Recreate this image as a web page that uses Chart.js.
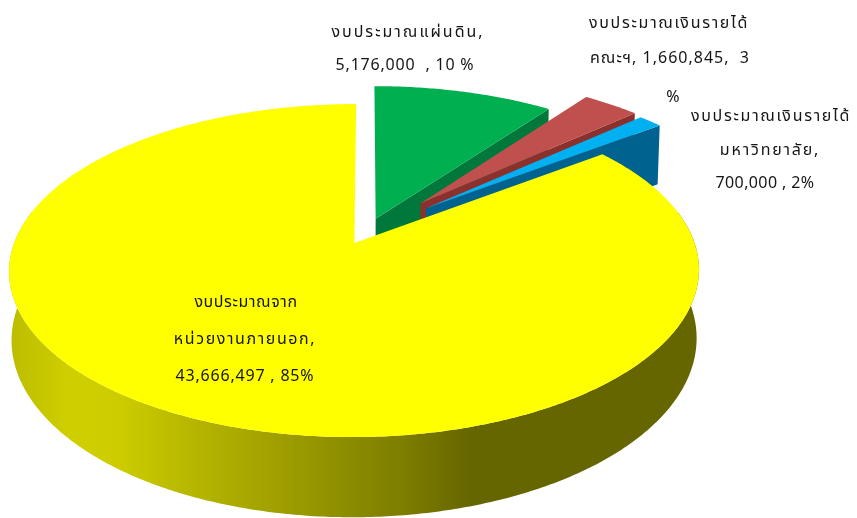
<!DOCTYPE html>
<html>
<head>
<meta charset="utf-8">
<script src="https://cdn.jsdelivr.net/npm/chart.js@4"></script>
<style>
html, body { margin: 0; padding: 0; background: #fff; }
canvas { display: block; filter: blur(0.5px); }
</style>
</head>
<body>
<canvas id="budgetChart" width="857" height="518"></canvas>
<script>
const categories = ['งบประมาณแผ่นดิน', 'งบประมาณเงินรายได้คณะฯ', 'งบประมาณเงินรายได้มหาวิทยาลัย', 'งบประมาณจากหน่วยงานภายนอก'];
const budgetValues = [5176000, 1660845, 700000, 43666497];
const sliceColors = ['#00b050', '#c0504d', '#00b0f0', '#ffff00'];
const wallColors = ['#00783c', '#8c302d', '#00628f', null];
const labelLines = [
    ['งบประมาณแผ่นดิน,', '5,176,000  , 10 %'],
    ['งบประมาณเงินรายได้', 'คณะฯ, 1,660,845,  3'],
    ['งบประมาณเงินรายได้', 'มหาวิทยาลัย,', '700,000 , 2%'],
    ['งบประมาณจาก', 'หน่วยงานภายนอก,', '43,666,497 , 85%']
];

// view of the pie plane, radius of the pie = 1
const view = { cx: 367, cy: 231, a: 336, h: 158, b: 0.164, depth: 66 };

function project(px, py, z) {
    const s = 1 / (1 - view.b * py);
    return {
        x: view.cx + view.a * px * s * (1 - 0.007 * z),
        y: view.cy + view.h * py * s + view.depth * z * s
    };
}

function sliceOrigin(arc) {
    const mid = (arc.startAngle + arc.endAngle) / 2;
    const shift = (arc.options.offset / 4) / arc.outerRadius;
    return { x: Math.cos(mid) * shift, y: Math.sin(mid) * shift };
}

function slicePoints(arc, z, frontOnly) {
    const o = sliceOrigin(arc);
    const pts = [];
    const steps = Math.ceil((arc.endAngle - arc.startAngle) / 0.01);
    for (let i = 0; i <= steps; i++) {
        const t = arc.startAngle + (arc.endAngle - arc.startAngle) * i / steps;
        if (!frontOnly || Math.sin(t) > -0.2) {
            pts.push(project(o.x + Math.cos(t), o.y + Math.sin(t), z));
        }
    }
    return pts;
}

function fillPoly(ctx, pts, color) {
    if (!pts.length) return;
    ctx.beginPath();
    pts.forEach((p, i) => i ? ctx.lineTo(p.x, p.y) : ctx.moveTo(p.x, p.y));
    ctx.closePath();
    ctx.fillStyle = color;
    ctx.fill();
}

function yellowWall(ctx) {
    const g = ctx.createLinearGradient(8, 0, 698, 0);
    const stops = [[8, '#bcbc00'], [70, '#cfcf00'], [120, '#cccc00'], [200, '#b4b400'], [300, '#999900'], [400, '#7e7e00'], [470, '#666600'], [698, '#666600']];
    stops.forEach(s => g.addColorStop((s[0] - 8) / 690, s[1]));
    return g;
}

const pie3d = {
    id: 'pie3d',
    beforeDatasetsDraw(chart) {
        const ctx = chart.ctx;
        chart.getDatasetMeta(0).data.forEach((arc, i) => {
            const o = sliceOrigin(arc);
            const apexTop = project(o.x, o.y, 0);
            const apexBottom = project(o.x, o.y, 1);
            const top = slicePoints(arc, 0, false);
            const wall = wallColors[i] || yellowWall(ctx);
            // the last radial edge faces the viewer on the small slices, the big one hides it
            if (wallColors[i]) {
                const bottom = slicePoints(arc, 1, false);
                const last = top.length - 1;
                fillPoly(ctx, [apexTop, top[last], bottom[last], apexBottom], wall);
            } else {
                const frontTop = slicePoints(arc, 0, true);
                const frontBottom = slicePoints(arc, 1, true);
                fillPoly(ctx, frontTop.concat(frontBottom.reverse()), wall);
            }
            fillPoly(ctx, [apexTop].concat(top), arc.options.backgroundColor);
        });
        return false;
    },
    afterDraw(chart) {
        const ctx = chart.ctx;
        ctx.save();
        ctx.font = '16px Tahoma, "Noto Sans Thai", "Noto Sans", "DejaVu Sans", sans-serif';
        ctx.fillStyle = '#151515';
        ctx.textAlign = 'center';
        ctx.textBaseline = 'middle';
        // x, y, letter spacing of each label line
        const spots = [
            [[408, 34, 2], [405, 67, 0.8]],
            [[669, 25, 1.7], [670, 60, 1]],
            [[771, 118, 1.7], [770, 152, 1.8], [765, 185, 0.4]],
            [[246, 304, 0.6], [245, 341, 1.6], [245, 378, 0.8]]
        ];
        labelLines.forEach((lines, i) => lines.forEach((line, j) => {
            const spot = spots[i][j];
            ctx.letterSpacing = spot[2] + 'px';
            ctx.fillText(line, spot[0], spot[1]);
        }));
        ctx.letterSpacing = '0px';
        ctx.fillText('%', 673, 99);
        ctx.restore();
    }
};

new Chart(document.getElementById('budgetChart'), {
    type: 'pie',
    data: {
        labels: categories,
        datasets: [{
            data: budgetValues,
            backgroundColor: sliceColors,
            borderWidth: 0,
            offset: [58, 170, 162, 58]
        }]
    },
    options: {
        responsive: false,
        animation: false,
        plugins: { legend: { display: false }, tooltip: { enabled: false } }
    },
    plugins: [pie3d]
});
</script>
</body>
</html>
